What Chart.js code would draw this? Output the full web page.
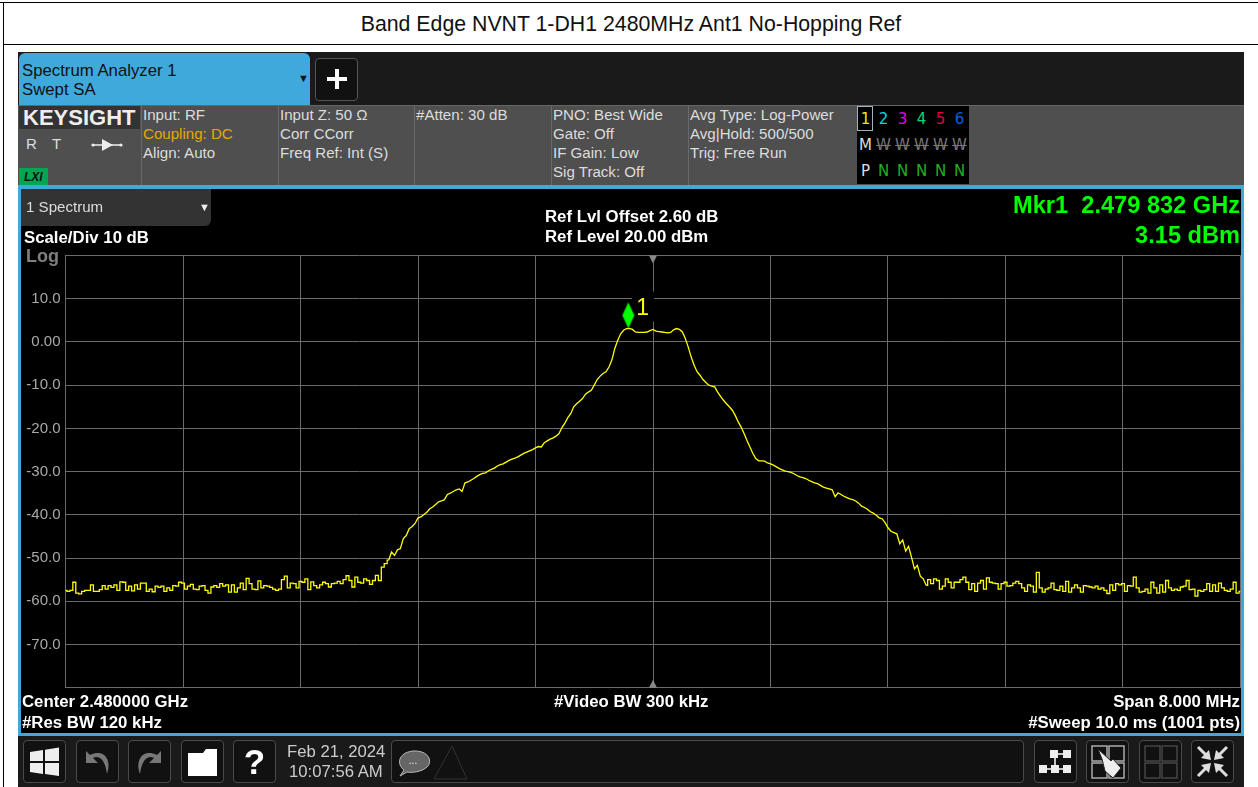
<!DOCTYPE html>
<html>
<head>
<meta charset="utf-8">
<title>Band Edge NVNT 1-DH1 2480MHz Ant1 No-Hopping Ref</title>
<script src="https://cdn.jsdelivr.net/npm/chart.js@4"></script>
<style>
  html, body { margin: 0; padding: 0; background: #fff; }
  body { position: relative; width: 1258px; height: 787px; overflow: hidden; font-family: "Liberation Sans", Arial, sans-serif; }
  .box { position: absolute; box-sizing: border-box; }
  .t { position: absolute; white-space: pre; line-height: 1; }
  .info { font-size: 15.1px; color: #ddd; }
  .b { font-size: 16.8px; font-weight: bold; color: #fff; }
  .r { text-align: right; }
  .mk { font-size: 23.6px; font-weight: bold; color: #00ff00; }
  .btn { position: absolute; top: 740px; width: 43px; height: 43px; box-sizing: border-box; border: 1px solid #4a4a4a; border-radius: 4px; background: #111; }
  .btn svg, .t svg { display: block; }
  .tr { font: 15px "DejaVu Sans", sans-serif; position: absolute; width: 19px; text-align: center; line-height: 1; }
  #chart { position: absolute; left: 21px; top: 189px; }
</style>
</head>
<body>
<!-- report table lines -->
<div class="box" style="left:0;top:2px;width:1258px;height:1px;background:#000"></div>
<div class="box" style="left:3px;top:44px;width:1255px;height:1px;background:#000"></div>
<div class="box" style="left:3px;top:2px;width:1px;height:785px;background:#000"></div>
<div class="t" style="left:0;top:14px;width:1262px;text-align:center;font-size:21.300px;color:#111">Band Edge NVNT 1-DH1 2480MHz Ant1 No-Hopping Ref</div>

<!-- analyzer window -->
<div class="box" style="left:18px;top:52px;width:1226px;height:735px;background:#1a1a1a"></div>
<div class="box" style="left:19px;top:53px;width:291px;height:52px;background:#3fa9dc;border-radius:6px 6px 0 0"></div>
<div class="t" style="left:22px;top:63px;font-size:16.750px;color:#111">Spectrum Analyzer 1</div>
<div class="t" style="left:22px;top:82px;font-size:16.750px;color:#111">Swept SA</div>
<div class="t" style="left:298px;top:73px;font-size:11px;color:#111">▼</div>
<div class="box" style="left:315px;top:58px;width:43px;height:43px;border:1px solid #555;border-radius:4px;background:#111"></div>
<div class="t" style="left:325px;top:67px;width:24px;height:24px"><svg width="24" height="24"><path d="M12 2V22M2 12H22" stroke="#fff" stroke-width="4"/></svg></div>

<!-- status band -->
<div class="box" style="left:18px;top:105px;width:1226px;height:80px;background:#4f4f4f;border-top:1px solid #666"></div>
<div class="box" style="left:19px;top:106px;width:121px;height:23px;background:#333"></div>
<div class="t" style="left:23px;top:107px;font-size:22px;font-weight:bold;color:#eee">KEYSIGHT</div>
<div class="t" style="left:26px;top:136px;font-size:15px;color:#ddd">R</div>
<div class="t" style="left:52px;top:136px;font-size:15px;color:#ddd">T</div>
<div class="t" style="left:91px;top:138px;width:32px;height:14px"><svg width="32" height="14"><path d="M2 7H30" stroke="#eee" stroke-width="1.500"/><path d="M11 1L22 7L11 13Z" fill="#eee"/><circle cx="2" cy="7" r="1.600" fill="#eee"/><circle cx="30" cy="7" r="1.600" fill="#eee"/></svg></div>
<div class="box" style="left:19px;top:168px;width:29px;height:17px;background:#00a651"></div>
<div class="t" style="left:24px;top:171px;font-size:12px;font-weight:bold;font-style:italic;color:#111">LXI</div>
<div class="box" style="left:141px;top:106px;width:1px;height:79px;background:#6a6a6a"></div>
<div class="box" style="left:278px;top:106px;width:1px;height:79px;background:#6a6a6a"></div>
<div class="box" style="left:414px;top:106px;width:1px;height:79px;background:#6a6a6a"></div>
<div class="box" style="left:551px;top:106px;width:1px;height:79px;background:#6a6a6a"></div>
<div class="box" style="left:688px;top:106px;width:1px;height:79px;background:#6a6a6a"></div>
<div class="t info" style="left:143px;top:107px">Input: RF</div>
<div class="t info" style="left:143px;top:126px;color:#e6a800">Coupling: DC</div>
<div class="t info" style="left:143px;top:145px">Align: Auto</div>
<div class="t info" style="left:280px;top:107px">Input Z: 50 Ω</div>
<div class="t info" style="left:280px;top:126px">Corr CCorr</div>
<div class="t info" style="left:280px;top:145px">Freq Ref: Int (S)</div>
<div class="t info" style="left:416px;top:107px">#Atten: 30 dB</div>
<div class="t info" style="left:553px;top:107px">PNO: Best Wide</div>
<div class="t info" style="left:553px;top:126px">Gate: Off</div>
<div class="t info" style="left:553px;top:145px">IF Gain: Low</div>
<div class="t info" style="left:553px;top:164px">Sig Track: Off</div>
<div class="t info" style="left:690px;top:107px">Avg Type: Log-Power</div>
<div class="t info" style="left:690px;top:126px">Avg|Hold: 500/500</div>
<div class="t info" style="left:690px;top:145px">Trig: Free Run</div>

<!-- trace matrix -->
<div class="box" style="left:857px;top:106px;width:112px;height:78px;background:#000"></div>
<div class="box" style="left:857px;top:106px;width:16px;height:25px;border:1px solid #9db4c0"></div>
<div class="tr" style="left:856px;top:112px;color:#e8e800">1</div>
<div class="tr" style="left:874px;top:112px;color:#00d8e0">2</div>
<div class="tr" style="left:893px;top:112px;color:#e000e0">3</div>
<div class="tr" style="left:912px;top:112px;color:#00d870">4</div>
<div class="tr" style="left:931px;top:112px;color:#e00040">5</div>
<div class="tr" style="left:950px;top:112px;color:#0060e0">6</div>
<div class="tr" style="left:856px;top:138px;color:#ddd">M</div>
<div class="tr" style="left:874px;top:138px;color:#777;text-decoration:line-through">W</div>
<div class="tr" style="left:893px;top:138px;color:#777;text-decoration:line-through">W</div>
<div class="tr" style="left:912px;top:138px;color:#777;text-decoration:line-through">W</div>
<div class="tr" style="left:931px;top:138px;color:#777;text-decoration:line-through">W</div>
<div class="tr" style="left:950px;top:138px;color:#777;text-decoration:line-through">W</div>
<div class="tr" style="left:856px;top:164px;color:#ddd">P</div>
<div class="tr" style="left:874px;top:164px;color:#1fb01f">N</div>
<div class="tr" style="left:893px;top:164px;color:#1fb01f">N</div>
<div class="tr" style="left:912px;top:164px;color:#1fb01f">N</div>
<div class="tr" style="left:931px;top:164px;color:#1fb01f">N</div>
<div class="tr" style="left:950px;top:164px;color:#1fb01f">N</div>

<!-- plot frame -->
<div class="box" style="left:18px;top:185px;width:1226px;height:551px;background:#000;border:3px solid #3fa9dc;border-top-width:4px"></div>
<canvas id="chart" width="1220" height="544"></canvas>
<div class="box" style="left:21px;top:189px;width:190px;height:37px;background:#333;border-radius:0 0 6px 0"></div>
<div class="t info" style="left:26px;top:199px">1 Spectrum</div>
<div class="t" style="left:199px;top:202px;font-size:11px;color:#eee">▼</div>
<div class="t b" style="left:24px;top:230px">Scale/Div 10 dB</div>
<div class="t" style="left:26px;top:247px;font-size:18px;font-weight:bold;color:#808080">Log</div>
<div class="t b" style="left:545px;top:209px">Ref Lvl Offset 2.60 dB</div>
<div class="t b" style="left:545px;top:229px">Ref Level 20.00 dBm</div>
<div class="t mk r" style="right:18px;top:194px">Mkr1  2.479 832 GHz</div>
<div class="t mk r" style="right:18px;top:224px">3.15 dBm</div>
<div class="t b" style="left:22px;top:694px">Center 2.480000 GHz</div>
<div class="t b" style="left:22px;top:715px">#Res BW 120 kHz</div>
<div class="t b" style="left:554px;top:694px">#Video BW 300 kHz</div>
<div class="t b r" style="right:18px;top:694px">Span 8.000 MHz</div>
<div class="t b r" style="right:18px;top:715px">#Sweep 10.0 ms (1001 pts)</div>

<!-- bottom toolbar -->
<div class="btn" style="left:23px"><svg width="41" height="41"><path d="M6 11L19 9V20H6ZM21 8.700L35 6.500V20H21ZM6 22H19V33L6 31ZM21 22H35V35L21 33Z" fill="#eee"/></svg></div>
<div class="btn" style="left:76px"><svg width="41" height="41"><path d="M9 10V22H21L16 17C21 14 28 17 30 33C35 20 28 7 13 14Z" fill="#777"/></svg></div>
<div class="btn" style="left:128px"><svg width="41" height="41"><path d="M32 10V22H20L25 17C20 14 13 17 11 33C6 20 13 7 28 14Z" fill="#777"/></svg></div>
<div class="btn" style="left:181px"><svg width="41" height="41"><path d="M6 12H21L24 8H35V35H6Z" fill="#fff"/></svg></div>
<div class="btn" style="left:233px"><svg width="41" height="41"><text x="20.500" y="33" text-anchor="middle" font-family="Liberation Sans" font-size="35" font-weight="bold" fill="#fff">?</text></svg></div>
<div class="t" style="left:287px;top:744px;font-size:16.700px;color:#ccc">Feb 21, 2024</div>
<div class="t" style="left:289px;top:764px;font-size:16.700px;color:#ccc">10:07:56 AM</div>
<div class="box" style="left:391px;top:740px;width:633px;height:43px;border:1px solid #4a4a4a;border-radius:4px;background:#111"></div>
<div class="t" style="left:395px;top:746px;width:72px;height:34px"><svg width="72" height="34"><path d="M5 30L9 24C2 19 2 7 18 5C34 4 38 16 32 21C27 26 16 27 12 26Z" fill="#666" stroke="#bbb"/><text x="18" y="18" text-anchor="middle" font-size="10" fill="#eee">...</text><path d="M57 0L39 33H72" fill="none" stroke="#333"/><path d="M57 0L72 33" fill="none" stroke="#333"/></svg></div>
<div class="btn" style="left:1034px"><svg width="41" height="41"><path d="M22 13H34M20 13V28M5 28H36" stroke="#fff" stroke-width="1.500"/><path d="M15 9h8v8h-8zM28 9h8v8h-8zM4 24h8v8h-8zM16 24h8v8h-8zM28 24h8v8h-8z" fill="#eee"/></svg></div>
<div class="btn" style="left:1086px"><svg width="41" height="41"><path d="M5 5h15v15h-15zM22 5h15v15h-15zM5 22h15v15h-15zM22 22h15v15h-15z" fill="none" stroke="#aaa" stroke-width="1.500"/><path d="M11 8L24 20L26 18L34 27L26 37L18 30L15 18Z" fill="#eee" stroke="#222"/></svg></div>
<div class="btn" style="left:1139px"><svg width="41" height="41"><path d="M5 5h15v15h-15zM22 5h15v15h-15zM5 22h15v15h-15zM22 22h15v15h-15z" fill="none" stroke="#444" stroke-width="1.500"/></svg></div>
<div class="btn" style="left:1191px"><svg width="41" height="41"><path d="M6 6L17 17M35 6L24 17M6 35L17 24M35 35L24 24" stroke="#ddd" stroke-width="3"/><path d="M19 19L9 17L17 9ZM22 19L32 17L24 9ZM19 22L9 24L17 32ZM22 22L32 24L24 32Z" fill="#ddd"/></svg></div>

<script>
// values, one every 0.02 MHz (display has 1001 pts, this is every 2.5th or so)
var startMHz = 2476;
var stepMHz = 0.02;
var traceDb = [
  -57.5,-57.7,-57.5,-55.6,-58.1,-58.3,-57.7,-57.5,-57.5,-56.2,
  -57.7,-57.7,-57.3,-56.4,-57.2,-56.4,-56.8,-56.2,-57.5,-55.5,
  -55.6,-57.5,-56.5,-57.6,-56.2,-57.2,-55.8,-55.8,-57.7,-57.2,
  -57.8,-56.5,-56.8,-56.5,-57.7,-56.9,-57.5,-56.4,-56.5,-55.6,
  -55.8,-57.2,-56.5,-56.1,-57.2,-57.3,-56.5,-56.4,-57.5,-58.1,
  -56.7,-56.4,-56.8,-55.9,-56.5,-56.2,-57.9,-56.2,-57.9,-56.9,
  -55.8,-57.3,-54.7,-55.9,-57.2,-57.3,-55.3,-56.9,-56.4,-56.5,
  -56.8,-57.2,-57.5,-57.2,-55.0,-54.2,-56.9,-55.8,-55.9,-56.9,
  -55.4,-55.6,-54.8,-57.3,-55.5,-56.4,-56.9,-56.2,-55.6,-55.9,
  -56.7,-55.9,-55.8,-55.4,-55.9,-55.0,-54.1,-55.2,-56.7,-54.4,
  -55.6,-55.8,-54.8,-55.2,-56.1,-55.2,-54.0,-55.2,-52.1,-51.3,
  -50.5,-48.6,-49.4,-48.1,-47.8,-45.5,-44.8,-43.2,-42.7,-42.0,
  -40.7,-40.5,-39.9,-39.4,-38.6,-38.2,-37.6,-37.0,-36.8,-36.5,
  -35.3,-35.0,-34.6,-34.2,-34.0,-34.6,-32.6,-32.4,-32.0,-31.6,
  -31.1,-30.7,-30.4,-30.3,-29.8,-29.5,-29.2,-28.7,-28.4,-28.2,
  -27.8,-27.4,-27.1,-26.9,-26.6,-26.2,-25.8,-25.5,-25.2,-24.9,
  -24.5,-24.2,-24.3,-23.3,-22.9,-22.5,-22.2,-21.8,-21.2,-19.8,
  -18.8,-17.5,-16.6,-15.0,-14.3,-13.7,-13.1,-12.1,-11.6,-11.2,
  -10.0,-8.7,-7.9,-7.3,-6.9,-5.8,-4.2,-1.5,0.4,1.9,
  2.7,3.1,3.15,2.9,2.3,2.2,2.2,2.2,2.3,2.6,
  2.9,2.5,2.4,2.3,2.2,2.1,2.2,2.8,3.1,2.9,
  2.3,0.8,-1.2,-3.5,-5.4,-6.9,-7.7,-8.7,-9.4,-10.0,
  -10.2,-10.4,-11.6,-12.6,-13.5,-14.3,-15.0,-15.8,-17.0,-18.5,
  -19.7,-21.2,-22.8,-24.3,-25.8,-27.0,-27.5,-27.5,-27.6,-28.0,
  -28.2,-28.5,-28.9,-29.3,-29.6,-29.9,-30.0,-30.2,-30.5,-30.9,
  -31.2,-31.4,-31.6,-32.0,-32.3,-32.6,-32.8,-33.2,-33.6,-33.8,
  -34.0,-34.2,-35.8,-34.9,-35.3,-35.7,-36.0,-36.3,-36.5,-36.8,
  -37.3,-38.0,-38.3,-38.7,-39.3,-39.6,-40.1,-40.7,-40.9,-41.8,
  -43.0,-43.8,-44.1,-44.4,-46.7,-45.8,-48.4,-47.3,-49.8,-52.5,
  -51.7,-54.2,-54.8,-56.3,-55.0,-55.9,-54.8,-55.2,-57.2,-56.5,
  -54.8,-55.6,-56.9,-55.6,-55.6,-55.0,-54.4,-55.6,-57.3,-55.9,
  -57.7,-55.8,-55.2,-57.2,-54.6,-55.6,-55.8,-55.9,-57.2,-55.9,
  -55.6,-56.5,-56.4,-55.8,-55.4,-55.9,-56.9,-57.7,-56.2,-56.5,
  -57.9,-53.3,-56.9,-57.9,-57.2,-56.9,-55.8,-57.3,-57.5,-56.5,
  -57.7,-55.4,-57.9,-56.9,-56.2,-56.9,-57.9,-56.4,-56.5,-56.7,
  -56.9,-56.5,-57.2,-56.9,-57.5,-58.2,-56.2,-57.5,-55.9,-56.2,
  -55.9,-57.7,-56.4,-56.5,-54.4,-56.9,-57.9,-57.7,-57.2,-58.1,
  -55.6,-56.9,-58.1,-56.2,-57.9,-55.2,-56.9,-57.5,-57.2,-57.5,
  -56.7,-56.5,-55.2,-57.3,-57.2,-58.8,-57.5,-57.7,-57.3,-55.9,
  -57.7,-56.2,-57.7,-55.8,-56.9,-57.5,-57.7,-57.2,-55.6,-58.1,
  -57.7
];
var xTicks = [2476, 2476.8, 2477.6, 2478.4, 2479.2, 2480, 2480.8, 2481.6, 2482.4, 2483.2, 2484];
var yTicks = [20, 10, 0, -10, -20, -30, -40, -50, -60, -70, -80];
var yTickLabels = ["", "10.0", "0.00", "-10.0", "-20.0", "-30.0", "-40.0", "-50.0", "-60.0", "-70.0", ""];
var markerMHz = 2479.832;
var markerDb = 3.15;
var centerMHz = 2480;
// noise floor looks blocky on the instrument, the slopes don't
var skirtStart = 110;
var skirtEnd = 293;

var tracePoints = traceDb.map(function (v, i) {
  return { x: startMHz + i * stepMHz, y: v };
});

function traceDataset(label, points, stepped) {
  return {
    label: label,
    data: points,
    borderColor: "#ffff00",
    borderWidth: 1.3,
    pointRadius: 0,
    stepped: stepped,
    order: 2,
  };
}

// green diamond, drawn in the top half so its tip lands on the marker value
var diamond = document.createElement("canvas");
diamond.width = 14;
diamond.height = 52;
var dc = diamond.getContext("2d");
dc.fillStyle = "#00ff00";
dc.beginPath();
dc.moveTo(7, 0);
dc.lineTo(13, 13);
dc.lineTo(7, 26);
dc.lineTo(1, 13);
dc.closePath();
dc.fill();

var markerDecor = {
  id: "markerDecor",
  beforeDatasetsDraw: function (chart) {
    // black patch behind the "1", cuts the grid like the instrument does
    var c = chart.ctx;
    var cx = chart.scales.x.getPixelForValue(centerMHz);
    c.fillStyle = "#000";
    c.fillRect(cx - 21, chart.chartArea.top + 36, 22, 30);
    // center ticks top and bottom
    c.fillStyle = "#888";
    c.beginPath();
    c.moveTo(cx - 4, chart.chartArea.top);
    c.lineTo(cx + 4, chart.chartArea.top);
    c.lineTo(cx, chart.chartArea.top + 8);
    c.closePath();
    c.moveTo(cx - 4, chart.chartArea.bottom);
    c.lineTo(cx + 4, chart.chartArea.bottom);
    c.lineTo(cx, chart.chartArea.bottom - 8);
    c.closePath();
    c.fill();
  },
  afterDatasetsDraw: function (chart) {
    var c = chart.ctx;
    c.fillStyle = "#ffff00";
    c.font = '23px "Liberation Sans"';
    c.textAlign = "left";
    c.textBaseline = "alphabetic";
    c.fillText("1", chart.scales.x.getPixelForValue(markerMHz) + 8, chart.scales.y.getPixelForValue(markerDb) - 13);
  },
};

var chart = new Chart(document.getElementById("chart").getContext("2d"), {
  type: "line",
  data: {
    datasets: [
      traceDataset("Trace 1 low side", tracePoints.slice(0, skirtStart + 1), "middle"),
      traceDataset("Trace 1 skirt", tracePoints.slice(skirtStart, skirtEnd + 1), false),
      traceDataset("Trace 1 high side", tracePoints.slice(skirtEnd), "middle"),
      {
        label: "Mkr1",
        data: [{ x: markerMHz, y: markerDb }],
        pointStyle: diamond,
        pointRadius: 7,
        showLine: false,
        order: 1,
      },
    ],
  },
  options: {
    responsive: false,
    animation: false,
    layout: { autoPadding: false, padding: { top: 66.5, bottom: 45.3, left: 0, right: 0.5 } },
    plugins: { legend: { display: false }, title: { display: false }, tooltip: { enabled: false } },
    scales: {
      x: {
        type: "linear",
        min: xTicks[0],
        max: xTicks[xTicks.length - 1],
        afterBuildTicks: function (axis) {
          axis.ticks = xTicks.map(function (v) {
            return { value: v };
          });
        },
        afterFit: function (axis) {
          axis.height = 0;
        },
        ticks: { display: false },
        grid: { color: "#6b6b6b", lineWidth: 1, drawTicks: false },
        border: { color: "#6b6b6b" },
      },
      y: {
        type: "linear",
        min: yTicks[yTicks.length - 1],
        max: yTicks[0],
        afterBuildTicks: function (axis) {
          axis.ticks = yTicks.map(function (v) {
            return { value: v };
          });
        },
        afterFit: function (axis) {
          axis.width = 44.5;
        },
        ticks: {
          color: "#a8a8a8",
          font: { family: "Liberation Sans", size: 15 },
          padding: 5,
          callback: function (value) {
            return yTickLabels[yTicks.indexOf(value)];
          },
        },
        grid: { color: "#6b6b6b", lineWidth: 1, drawTicks: false },
        border: { color: "#6b6b6b" },
      },
    },
  },
  plugins: [markerDecor],
});
</script>
</body>
</html>
